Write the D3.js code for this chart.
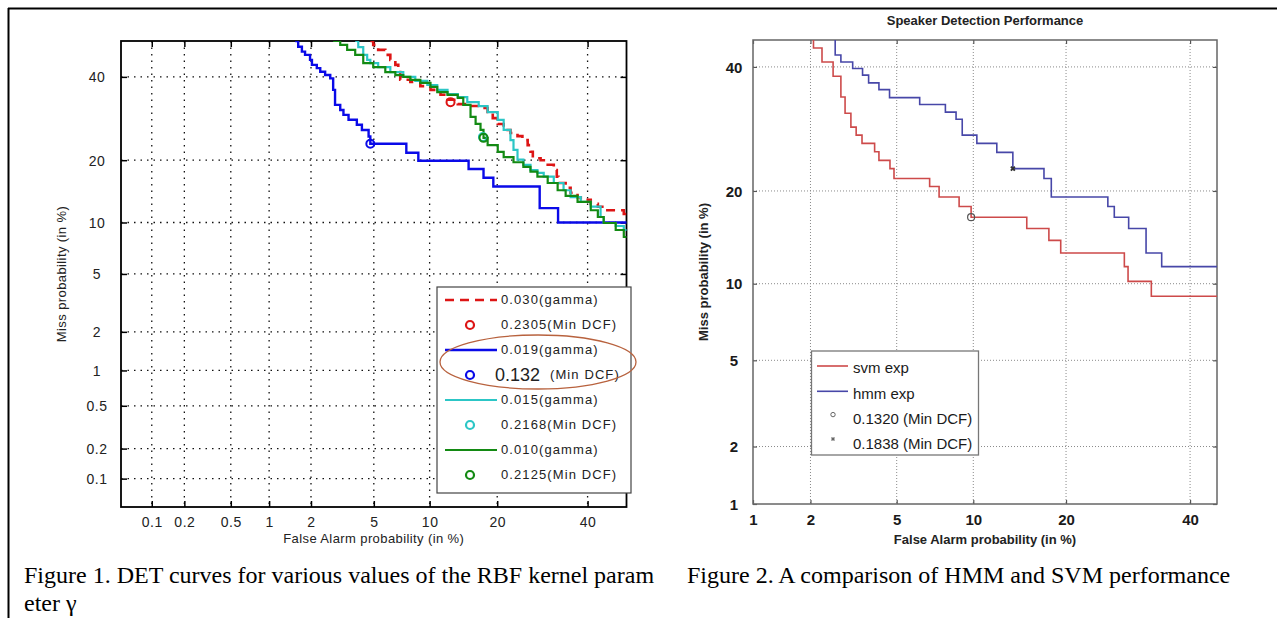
<!DOCTYPE html>
<html>
<head>
<meta charset="utf-8">
<script src="https://cdn.jsdelivr.net/npm/d3@7"></script>
<style>
    body { margin: 0; background: #fff; }
    svg { display: block; }
</style>
</head>
<body>
<svg width="1277" height="618"></svg>
<script>
// values are in percent: [false alarm, miss]
const fig1Ticks = [0.1, 0.2, 0.5, 1, 2, 5, 10, 20, 40];
const fig2Ticks = [1, 2, 5, 10, 20, 40];

const gamma030 = [[4.77, 50], [4.96, 48.9], [5.30, 47.5], [5.82, 46.1], [6.21, 44.7], [6.62, 43.3], [6.87, 41.3],
    [7.04, 39.2], [7.97, 38.6], [8.98, 37.5], [10.1, 36.5], [11.3, 35.2], [12.2, 33.9], [13.6, 32.8], [15.0, 32.3],
    [16.8, 31.8], [18.3, 30.8], [19.2, 29.3], [20.1, 27.9], [21.2, 26.5], [22.5, 25.8], [23.9, 25.1], [24.9, 24.2],
    [26.0, 23.1], [26.6, 21.7], [27.1, 20.4], [28.8, 20.0], [30.4, 19.1], [31.8, 18.1], [32.5, 16.9], [32.9, 15.8],
    [34.6, 15.0], [35.8, 14.2], [37.5, 13.5], [38.3, 13.1], [40.8, 12.5], [42.6, 12.1], [44.6, 11.6], [49.3, 11.1],
    [55, 11.1]];
const gamma019 = [[1.55, 50], [1.63, 48.4], [1.73, 47.0], [1.82, 46.1], [1.97, 44.7], [2.03, 43.3], [2.19, 42.4],
    [2.31, 41.4], [2.49, 40.5], [2.69, 39.6], [2.81, 36.5], [2.89, 32.6], [3.12, 31.3], [3.27, 30.1], [3.52, 28.9],
    [3.96, 27.7], [4.25, 26.5], [4.66, 25.0], [4.77, 23.4], [7.59, 21.5], [8.77, 19.9], [15.2, 18.3], [17.6, 16.7],
    [19.3, 15.2], [28.6, 11.9], [32.8, 10.0], [55, 10.0]];
const gamma015 = [[3.87, 50], [4.04, 48.3], [4.33, 46.1], [4.57, 44.7], [4.77, 43.8], [5.30, 42.7], [6.21, 41.3],
    [7.31, 40.0], [8.46, 38.9], [9.74, 37.8], [10.9, 36.5], [12.2, 35.4], [13.6, 34.6], [15.0, 33.3], [16.8, 32.3],
    [18.3, 30.8], [20.1, 28.9], [21.2, 26.5], [22.5, 24.2], [23.1, 22.1], [23.9, 20.1], [25.1, 19.1], [26.6, 18.1],
    [28.1, 17.6], [29.5, 16.9], [31.8, 15.8], [34.1, 14.6], [35.8, 13.5], [38.3, 12.8], [40.8, 12.1], [43.3, 10.7],
    [44.1, 9.94], [47.2, 9.57], [49.3, 9.10], [55, 9.10]];
const gamma010 = [[2.81, 50], [3.12, 48.9], [3.45, 47.5], [3.87, 46.1], [4.33, 43.8], [4.96, 42.7], [5.82, 41.3],
    [6.62, 40.5], [7.31, 40.0], [7.97, 39.2], [8.98, 38.4], [10.1, 37.3], [10.9, 35.9], [12.2, 35.2], [13.6, 34.4],
    [14.4, 32.6], [15.5, 29.6], [16.3, 27.9], [17.1, 26.5], [17.6, 24.7], [18.3, 23.1], [20.1, 21.7], [21.2, 20.6],
    [23.1, 19.6], [25.1, 18.7], [26.6, 17.8], [28.1, 16.9], [30.4, 15.8], [32.7, 14.6], [34.6, 13.7], [37.5, 12.8],
    [40.8, 11.6], [42.6, 10.7], [44.1, 9.94], [47.2, 9.10], [49.3, 8.32], [55, 8.32]];
const fig1Names = ["0.030(gamma)", "0.019(gamma)", "0.015(gamma)", "0.010(gamma)"];
const fig1Dcf = ["0.2305", "0.132", "0.2168", "0.2125"];
const fig1DcfPoints = [[12.6, 33.3], [4.77, 23.4], [17.5, 24.9], [17.6, 24.7]];

const svmExp = [[2.07, 50], [2.07, 43.5], [2.28, 40.9], [2.58, 38.3], [2.81, 34.6], [2.94, 31.8], [3.13, 29.5],
    [3.31, 28.2], [3.52, 26.9], [4.01, 25.6], [4.19, 24.3], [4.68, 23.1], [4.87, 21.7], [6.83, 20.6], [7.44, 19.2],
    [8.87, 18.0], [9.82, 16.7], [15.2, 15.4], [17.8, 14.1], [19.3, 12.8], [28.6, 11.5], [29.2, 10.2], [33.1, 9.0],
    [50, 9.0]];
const hmmExp = [[2.64, 50], [2.64, 42.2], [2.81, 40.9], [3.19, 39.7], [3.54, 38.5], [3.77, 37.1], [4.19, 35.9],
    [4.66, 34.5], [6.23, 33.3], [7.87, 32.0], [8.64, 30.8], [9.11, 28.2], [10.3, 26.9], [12.1, 25.5], [13.7, 23.1],
    [17.2, 21.7], [18.1, 19.2], [26.0, 18.0], [27.0, 16.7], [29.3, 15.4], [32.2, 12.8], [34.9, 11.5], [50, 11.5]];
const fig2Names = ["svm exp", "hmm exp", "0.1320 (Min DCF)", "0.1838 (Min DCF)"];
const fig2DcfPoints = [[9.82, 16.7], [13.7, 23.1]];

const svg = d3.select("svg");

// inverse of the normal cdf (Acklam)
function probit(p) {
    const a = [-39.69683028665376, 220.9460984245205, -275.9285104469687, 138.3577518672690, -30.66479806614716, 2.506628277459239],
        b = [-54.47609879822406, 161.5858368580409, -155.6989798598866, 66.80131188771972, -13.28068155288572],
        c = [-7.784894002430293e-03, -0.3223964580411365, -2.400758277161838, -2.549732539343734, 4.374664141464968, 2.938163982698783],
        d = [7.784695709041462e-03, 0.3224671290700398, 2.445134137142996, 3.754408661907416];
    let q, r;
    if (p < 0.02425) {
        q = Math.sqrt(-2 * Math.log(p));
        return (((((c[0] * q + c[1]) * q + c[2]) * q + c[3]) * q + c[4]) * q + c[5]) / ((((d[0] * q + d[1]) * q + d[2]) * q + d[3]) * q + 1);
    }
    if (p > 1 - 0.02425) {
        q = Math.sqrt(-2 * Math.log(1 - p));
        return -(((((c[0] * q + c[1]) * q + c[2]) * q + c[3]) * q + c[4]) * q + c[5]) / ((((d[0] * q + d[1]) * q + d[2]) * q + d[3]) * q + 1);
    }
    q = p - 0.5;
    r = q * q;
    return (((((a[0] * r + a[1]) * r + a[2]) * r + a[3]) * r + a[4]) * r + a[5]) * q / (((((b[0] * r + b[1]) * r + b[2]) * r + b[3]) * r + b[4]) * r + 1);
}

// frame of the page
svg.append("line").attr("x1", 8).attr("x2", 1277).attr("y1", 8.5).attr("y2", 8.5)
    .attr("stroke", "#000").attr("stroke-width", 2);
svg.append("line").attr("x1", 8.5).attr("x2", 8.5).attr("y1", 8).attr("y2", 618)
    .attr("stroke", "#000").attr("stroke-width", 2);

/* ---------- Figure 1 ---------- */
const p1 = {left: 121, right: 626.5, top: 41, bottom: 507};
const x1 = d3.scaleLinear().domain([probit(0.0005), 0]).range([p1.left, p1.right]);
const y1 = d3.scaleLinear().domain([probit(0.0005), 0]).range([p1.bottom, p1.top]);
const fx1 = v => x1(probit(v / 100)), fy1 = v => y1(probit(v / 100));

const g1 = svg.append("g");
g1.append("clipPath").attr("id", "clip1").append("rect")
    .attr("x", p1.left).attr("y", p1.top).attr("width", p1.right - p1.left).attr("height", p1.bottom - p1.top);

// dotted grid
g1.selectAll("line.vgrid").data(fig1Ticks).enter().append("line")
    .attr("x1", d => fx1(d)).attr("x2", d => fx1(d)).attr("y1", p1.top).attr("y2", p1.bottom)
    .attr("stroke", "#111").attr("stroke-width", 1.3).attr("stroke-dasharray", "1.5,5");
g1.selectAll("line.hgrid").data(fig1Ticks).enter().append("line")
    .attr("y1", d => fy1(d)).attr("y2", d => fy1(d)).attr("x1", p1.left).attr("x2", p1.right)
    .attr("stroke", "#111").attr("stroke-width", 1.3).attr("stroke-dasharray", "1.5,5");

const fmt1 = d => String(d);
g1.append("g").attr("transform", `translate(0,${p1.bottom})`)
    .call(d3.axisBottom(x1).tickValues(fig1Ticks.map(d => probit(d / 100))).tickFormat((d, i) => fmt1(fig1Ticks[i]))
        .tickSize(-6).tickPadding(10));
g1.append("g").attr("transform", `translate(0,${p1.top})`)
    .call(d3.axisTop(x1).tickValues(fig1Ticks.map(d => probit(d / 100))).tickFormat("").tickSize(-6));
const yAxis1 = g1.append("g").attr("transform", `translate(${p1.left},0)`)
    .call(d3.axisLeft(y1).tickValues(fig1Ticks.map(d => probit(d / 100))).tickFormat((d, i) => fmt1(fig1Ticks[i]))
        .tickSize(-6).tickPadding(24));
g1.append("g").attr("transform", `translate(${p1.right},0)`)
    .call(d3.axisRight(y1).tickValues(fig1Ticks.map(d => probit(d / 100))).tickFormat("").tickSize(-6));
g1.selectAll(".domain").remove();
g1.selectAll(".tick line").attr("stroke", "#000").attr("stroke-width", 1.5);
g1.selectAll(".tick text").attr("font-family", "Liberation Sans, Arial, sans-serif").attr("font-size", 14)
    .attr("fill", "#222").attr("letter-spacing", 0.5);
yAxis1.selectAll(".tick text").attr("text-anchor", "middle").attr("dy", "0.35em");
g1.append("rect").attr("x", p1.left).attr("y", p1.top).attr("width", p1.right - p1.left).attr("height", p1.bottom - p1.top)
    .attr("fill", "none").attr("stroke", "#000").attr("stroke-width", 1.8);

const curves1 = [
    {data: gamma030, color: "#dd1515", width: 2.6, dash: "9,6"},
    {data: gamma019, color: "#0a0ae8", width: 2.4, dash: null},
    {data: gamma015, color: "#2cc6c6", width: 2.2, dash: null},
    {data: gamma010, color: "#138a13", width: 2.2, dash: null}
];
const line1 = d3.line().x(d => fx1(d[0])).y(d => fy1(d[1])).curve(d3.curveStepAfter);
const plot1 = g1.append("g").attr("clip-path", "url(#clip1)");
plot1.selectAll("path.det").data([curves1[1], curves1[0], curves1[2], curves1[3]]).enter().append("path")
    .attr("d", d => line1(d.data)).attr("fill", "none")
    .attr("stroke", d => d.color).attr("stroke-width", d => d.width)
    .attr("stroke-dasharray", d => d.dash);
plot1.selectAll("circle.dcf").data(fig1DcfPoints).enter().append("circle")
    .attr("cx", d => fx1(d[0])).attr("cy", d => fy1(d[1])).attr("r", 4)
    .attr("fill", "none").attr("stroke", (d, i) => curves1[i].color).attr("stroke-width", 2);

// axis titles
g1.append("text").attr("x", (p1.left + p1.right) / 2).attr("y", 543).attr("text-anchor", "middle")
    .attr("font-family", "Liberation Sans, Arial, sans-serif").attr("font-size", 13).attr("letter-spacing", 0.4)
    .attr("fill", "#222").text("False Alarm probability (in %)");
g1.append("text").attr("transform", `translate(66,${(p1.top + p1.bottom) / 2}) rotate(-90)`).attr("text-anchor", "middle")
    .attr("font-family", "Liberation Sans, Arial, sans-serif").attr("font-size", 13).attr("letter-spacing", 0.4)
    .attr("fill", "#222").text("Miss probability (in %)");

// legend
const leg1 = g1.append("g");
leg1.append("rect").attr("x", 437).attr("y", 287).attr("width", 194).attr("height", 206)
    .attr("fill", "#fff").attr("stroke", "#444").attr("stroke-width", 1.2);
curves1.forEach(function (c, i) {
    const yl = 300 + i * 50;
    leg1.append("line").attr("x1", 445).attr("x2", 497).attr("y1", yl).attr("y2", yl)
        .attr("stroke", c.color).attr("stroke-width", c.width).attr("stroke-dasharray", c.dash);
    leg1.append("text").attr("x", 501).attr("y", yl - 1).attr("dy", "0.35em")
        .attr("font-family", "Liberation Sans, Arial, sans-serif").attr("font-size", 13).attr("letter-spacing", 1.1)
        .attr("fill", "#222").text(fig1Names[i]);
    leg1.append("circle").attr("cx", 470).attr("cy", yl + 25).attr("r", 4)
        .attr("fill", "none").attr("stroke", c.color).attr("stroke-width", 2.2);
    if (i === 1) {
        leg1.append("text").attr("x", 495).attr("y", yl + 25).attr("dy", "0.35em")
            .attr("font-family", "Liberation Sans, Arial, sans-serif").attr("font-size", 18)
            .attr("fill", "#222").text(fig1Dcf[i]);
        leg1.append("text").attr("x", 550).attr("y", yl + 24).attr("dy", "0.35em")
            .attr("font-family", "Liberation Sans, Arial, sans-serif").attr("font-size", 13).attr("letter-spacing", 1.1)
            .attr("fill", "#222").text("(Min DCF)");
    } else {
        leg1.append("text").attr("x", 501).attr("y", yl + 24).attr("dy", "0.35em")
            .attr("font-family", "Liberation Sans, Arial, sans-serif").attr("font-size", 13).attr("letter-spacing", 1.1)
            .attr("fill", "#222").text(fig1Dcf[i] + "(Min DCF)");
    }
});
leg1.append("ellipse").attr("cx", 538).attr("cy", 362).attr("rx", 98).attr("ry", 27)
    .attr("fill", "none").attr("stroke", "#b8623e").attr("stroke-width", 1.3);

/* ---------- Figure 2 ---------- */
const p2 = {left: 753, right: 1217, top: 40, bottom: 504};
const x2 = d3.scaleLinear().domain([probit(0.01), probit(0.45)]).range([p2.left, p2.right]);
const y2 = d3.scaleLinear().domain([probit(0.01), probit(0.45)]).range([p2.bottom, p2.top]);
const fx2 = v => x2(probit(v / 100)), fy2 = v => y2(probit(v / 100));

const g2 = svg.append("g");
g2.append("clipPath").attr("id", "clip2").append("rect")
    .attr("x", p2.left).attr("y", p2.top).attr("width", p2.right - p2.left).attr("height", p2.bottom - p2.top);

g2.selectAll("line.vgrid").data(fig2Ticks.slice(1)).enter().append("line")
    .attr("x1", d => fx2(d)).attr("x2", d => fx2(d)).attr("y1", p2.top).attr("y2", p2.bottom)
    .attr("stroke", "#8a8a8a").attr("stroke-width", 1).attr("stroke-dasharray", "1,2");
g2.selectAll("line.hgrid").data(fig2Ticks.slice(1)).enter().append("line")
    .attr("y1", d => fy2(d)).attr("y2", d => fy2(d)).attr("x1", p2.left).attr("x2", p2.right)
    .attr("stroke", "#8a8a8a").attr("stroke-width", 1).attr("stroke-dasharray", "1,2");

g2.append("g").attr("transform", `translate(0,${p2.bottom})`)
    .call(d3.axisBottom(x2).tickValues(fig2Ticks.map(d => probit(d / 100))).tickFormat((d, i) => String(fig2Ticks[i]))
        .tickSize(-4).tickPadding(10));
g2.append("g").attr("transform", `translate(0,${p2.top})`)
    .call(d3.axisTop(x2).tickValues(fig2Ticks.map(d => probit(d / 100))).tickFormat("").tickSize(-4));
const yAxis2 = g2.append("g").attr("transform", `translate(${p2.left},0)`)
    .call(d3.axisLeft(y2).tickValues(fig2Ticks.map(d => probit(d / 100))).tickFormat((d, i) => String(fig2Ticks[i]))
        .tickSize(-4).tickPadding(19));
g2.append("g").attr("transform", `translate(${p2.right},0)`)
    .call(d3.axisRight(y2).tickValues(fig2Ticks.map(d => probit(d / 100))).tickFormat("").tickSize(-4));
g2.selectAll(".domain").remove();
g2.selectAll(".tick line").attr("stroke", "#555").attr("stroke-width", 1.2);
g2.selectAll(".tick text").attr("font-family", "Liberation Sans, Arial, sans-serif").attr("font-size", 15)
    .attr("font-weight", "bold").attr("fill", "#1a1a1a");
yAxis2.selectAll(".tick text").attr("text-anchor", "middle").attr("dy", "0.35em");
g2.append("rect").attr("x", p2.left).attr("y", p2.top).attr("width", p2.right - p2.left).attr("height", p2.bottom - p2.top)
    .attr("fill", "none").attr("stroke", "#666").attr("stroke-width", 1.5);

const curves2 = [
    {data: svmExp, color: "#cd4a4a"},
    {data: hmmExp, color: "#4747a8"}
];
const line2 = d3.line().x(d => fx2(d[0])).y(d => fy2(d[1])).curve(d3.curveStepAfter);
const plot2 = g2.append("g").attr("clip-path", "url(#clip2)");
plot2.selectAll("path.det").data(curves2).enter().append("path")
    .attr("d", d => line2(d.data)).attr("fill", "none")
    .attr("stroke", d => d.color).attr("stroke-width", 1.6);
plot2.append("circle").attr("cx", fx2(fig2DcfPoints[0][0])).attr("cy", fy2(fig2DcfPoints[0][1])).attr("r", 3.5)
    .attr("fill", "none").attr("stroke", "#555").attr("stroke-width", 1.2);
plot2.append("path")
    .attr("transform", `translate(${fx2(fig2DcfPoints[1][0])},${fy2(fig2DcfPoints[1][1])}) rotate(45)`)
    .attr("d", d3.symbol(d3.symbolCross, 18)).attr("fill", "#333");

g2.append("text").attr("x", 985).attr("y", 25).attr("text-anchor", "middle")
    .attr("font-family", "Liberation Sans, Arial, sans-serif").attr("font-size", 13).attr("font-weight", "bold")
    .attr("fill", "#222").text("Speaker Detection Performance");
g2.append("text").attr("x", (p2.left + p2.right) / 2).attr("y", 544).attr("text-anchor", "middle")
    .attr("font-family", "Liberation Sans, Arial, sans-serif").attr("font-size", 13).attr("font-weight", "bold")
    .attr("fill", "#222").text("False Alarm probability (in %)");
g2.append("text").attr("transform", `translate(708,${(p2.top + p2.bottom) / 2}) rotate(-90)`).attr("text-anchor", "middle")
    .attr("font-family", "Liberation Sans, Arial, sans-serif").attr("font-size", 13).attr("font-weight", "bold")
    .attr("fill", "#222").text("Miss probability (in %)");

const leg2 = g2.append("g");
leg2.append("rect").attr("x", 811.5).attr("y", 351).attr("width", 167).attr("height", 104)
    .attr("fill", "#fff").attr("stroke", "#777").attr("stroke-width", 1.3);
fig2Names.forEach(function (name, i) {
    const yl = 367 + i * 25.3;
    if (i < 2) {
        leg2.append("line").attr("x1", 817).attr("x2", 848).attr("y1", yl - 1).attr("y2", yl - 1)
            .attr("stroke", curves2[i].color).attr("stroke-width", 1.6);
    } else if (i === 2) {
        leg2.append("circle").attr("cx", 833).attr("cy", yl - 3).attr("r", 2.2)
            .attr("fill", "none").attr("stroke", "#666").attr("stroke-width", 1);
    } else {
        leg2.append("path").attr("transform", `translate(833,${yl - 4}) rotate(45)`)
            .attr("d", d3.symbol(d3.symbolCross, 10)).attr("fill", "#666");
    }
    leg2.append("text").attr("x", 853).attr("y", yl + 1).attr("dy", "0.35em")
        .attr("font-family", "Liberation Sans, Arial, sans-serif").attr("font-size", 15)
        .attr("fill", "#1a1a1a").text(name);
});

/* ---------- captions ---------- */
const captionFont = "Liberation Serif, Times New Roman, serif";
svg.append("text").attr("x", 24).attr("y", 583).attr("font-family", captionFont).attr("font-size", 24)
    .attr("fill", "#000").text("Figure 1. DET curves for various values of the RBF kernel param");
svg.append("text").attr("x", 24).attr("y", 611).attr("font-family", captionFont).attr("font-size", 24)
    .attr("fill", "#000").text("eter γ");
svg.append("text").attr("x", 687).attr("y", 583).attr("font-family", captionFont).attr("font-size", 24)
    .attr("fill", "#000").text("Figure 2. A comparison of HMM and SVM performance");
</script>
</body>
</html>
